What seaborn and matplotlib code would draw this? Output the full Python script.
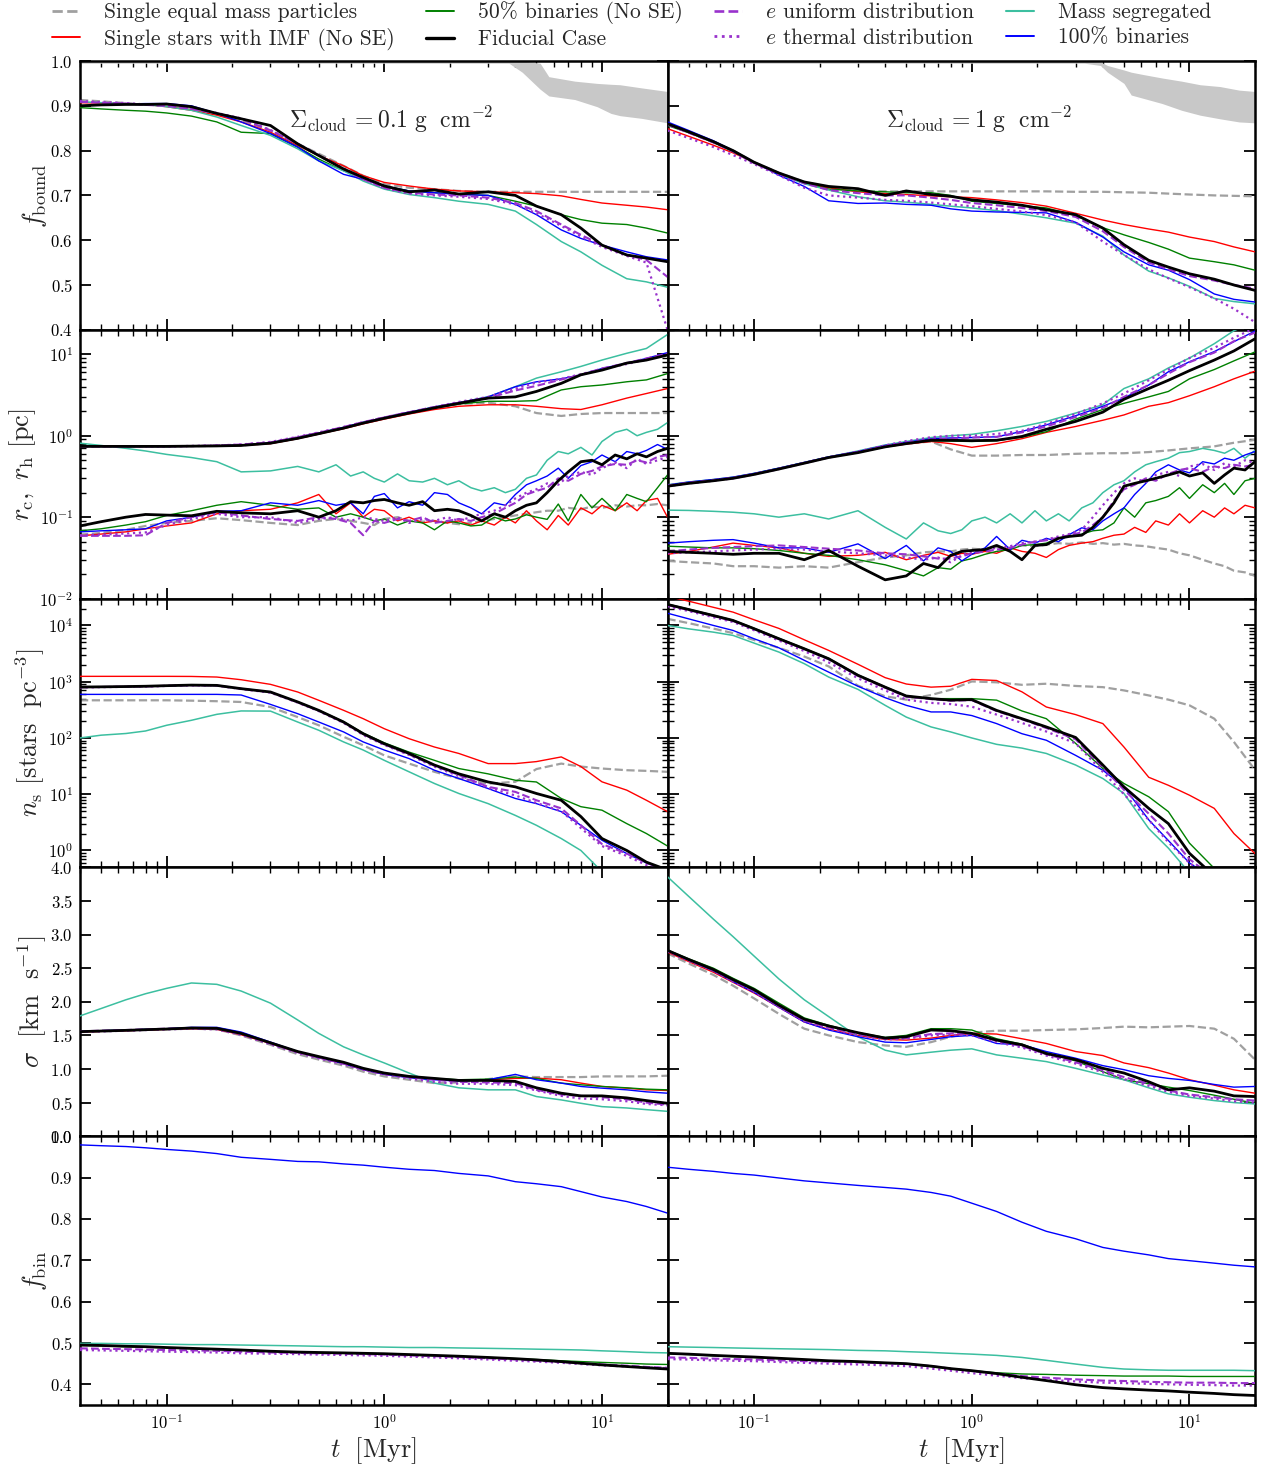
import matplotlib
matplotlib.use("Agg")
import matplotlib.pyplot as plt
from matplotlib.lines import Line2D
from matplotlib.ticker import MultipleLocator
import seaborn as sns

# ---------------- time grids (Myr) ----------------
T = [0.04, 0.05, 0.065, 0.08, 0.1, 0.13, 0.17, 0.22, 0.3, 0.4, 0.5, 0.65, 0.8, 1.0, 1.3, 1.7,
     2.2, 3.0, 4.0, 5.0, 6.5, 8.0, 10.0, 13.0, 16.0, 20.0]
TD = [0.04, 0.05, 0.065, 0.08, 0.1, 0.13, 0.17, 0.22, 0.3, 0.4, 0.5, 0.6, 0.7, 0.8, 0.9, 1.0,
      1.15, 1.3, 1.5, 1.7, 1.95, 2.2, 2.5, 2.8, 3.2, 3.6, 4.0, 4.5, 5.0, 5.6, 6.3, 7.0, 8.0, 9.0,
      10.0, 11.5, 13.0, 14.5, 16.0, 18.0, 20.0]

# ---------------- grey band (f_bound) ----------------
BAND_L_T = [0.04, 3.74, 4.3, 5.2, 5.7, 7.5, 9.5, 11.0, 12.1, 15.2, 20.0]
BAND_L_HI = [1.0, 1.0, 1.0, 0.995, 0.965, 0.955, 0.95, 0.948, 0.947, 0.94, 0.932]
BAND_L_LO = [0.995, 0.995, 0.975, 0.937, 0.922, 0.914, 0.898, 0.883, 0.878, 0.872, 0.862]
BAND_R_T = [0.04, 3.3, 3.9, 4.2, 5.0, 5.4, 6.1, 7.5, 9.2, 11.2, 13.8, 16.9, 20.0]
BAND_R_HI = [1.0, 1.0, 0.998, 0.99, 0.98, 0.975, 0.97, 0.962, 0.955, 0.947, 0.943, 0.935, 0.932]
BAND_R_LO = [0.995, 0.995, 0.99, 0.975, 0.95, 0.924, 0.917, 0.905, 0.89, 0.879, 0.871, 0.864, 0.862]

# ---------------- f_bound ----------------
FB_L_GRAY = [0.913, 0.91, 0.906, 0.903, 0.90, 0.893, 0.883, 0.868, 0.845, 0.815, 0.793, 0.766, 0.744, 0.725, 0.717, 0.714, 0.71, 0.708, 0.708, 0.708, 0.708, 0.708, 0.708, 0.708, 0.708, 0.708]
FB_L_RED = [0.907, 0.906, 0.905, 0.903, 0.898, 0.89, 0.879, 0.864, 0.841, 0.811, 0.789, 0.766, 0.744, 0.729, 0.721, 0.714, 0.71, 0.708, 0.706, 0.704, 0.699, 0.691, 0.683, 0.678, 0.674, 0.668]
FB_L_GREEN = [0.896, 0.893, 0.89, 0.888, 0.884, 0.877, 0.864, 0.841, 0.838, 0.808, 0.781, 0.755, 0.74, 0.721, 0.71, 0.706, 0.703, 0.70, 0.687, 0.676, 0.657, 0.646, 0.638, 0.635, 0.627, 0.616]
FB_L_BLACK = [0.90, 0.902, 0.903, 0.903, 0.904, 0.898, 0.883, 0.871, 0.856, 0.815, 0.789, 0.759, 0.74, 0.721, 0.708, 0.712, 0.703, 0.708, 0.70, 0.676, 0.657, 0.627, 0.589, 0.567, 0.56, 0.552]
FB_L_PDASH = [0.909, 0.907, 0.905, 0.902, 0.90, 0.893, 0.883, 0.871, 0.845, 0.815, 0.789, 0.759, 0.736, 0.717, 0.706, 0.702, 0.70, 0.695, 0.683, 0.665, 0.635, 0.612, 0.589, 0.567, 0.556, 0.518]
FB_L_PDOT = [0.911, 0.908, 0.906, 0.903, 0.90, 0.894, 0.884, 0.872, 0.846, 0.815, 0.79, 0.76, 0.737, 0.716, 0.704, 0.70, 0.697, 0.692, 0.68, 0.66, 0.632, 0.608, 0.585, 0.565, 0.55, 0.40]
FB_L_TURQ = [0.909, 0.907, 0.905, 0.903, 0.898, 0.89, 0.875, 0.856, 0.834, 0.804, 0.777, 0.755, 0.732, 0.714, 0.702, 0.695, 0.687, 0.68, 0.665, 0.635, 0.597, 0.574, 0.544, 0.514, 0.507, 0.495]
FB_L_BLUE = [0.90, 0.902, 0.904, 0.905, 0.905, 0.90, 0.883, 0.864, 0.838, 0.808, 0.777, 0.747, 0.736, 0.721, 0.71, 0.706, 0.702, 0.70, 0.68, 0.657, 0.623, 0.604, 0.589, 0.574, 0.563, 0.556]

FB_R_GRAY = [0.86, 0.842, 0.82, 0.80, 0.774, 0.75, 0.73, 0.718, 0.71, 0.709, 0.709, 0.709, 0.709, 0.709, 0.709, 0.709, 0.709, 0.708, 0.708, 0.707, 0.706, 0.704, 0.702, 0.70, 0.699, 0.698]
FB_R_RED = [0.849, 0.832, 0.812, 0.795, 0.774, 0.75, 0.728, 0.717, 0.708, 0.704, 0.702, 0.699, 0.697, 0.695, 0.69, 0.684, 0.676, 0.66, 0.645, 0.635, 0.625, 0.618, 0.607, 0.597, 0.585, 0.574]
FB_R_GREEN = [0.856, 0.84, 0.818, 0.798, 0.773, 0.748, 0.727, 0.714, 0.71, 0.708, 0.706, 0.706, 0.70, 0.687, 0.682, 0.677, 0.672, 0.655, 0.628, 0.612, 0.595, 0.58, 0.56, 0.552, 0.545, 0.533]
FB_R_BLACK = [0.86, 0.842, 0.82, 0.80, 0.774, 0.75, 0.73, 0.72, 0.715, 0.70, 0.71, 0.702, 0.698, 0.69, 0.685, 0.678, 0.668, 0.657, 0.627, 0.59, 0.555, 0.54, 0.525, 0.513, 0.50, 0.488]
FB_R_PDASH = [0.858, 0.84, 0.818, 0.798, 0.772, 0.748, 0.727, 0.712, 0.705, 0.70, 0.70, 0.695, 0.69, 0.683, 0.678, 0.672, 0.665, 0.652, 0.62, 0.585, 0.55, 0.535, 0.52, 0.51, 0.50, 0.492]
FB_R_PDOT = [0.845, 0.828, 0.808, 0.79, 0.77, 0.745, 0.717, 0.70, 0.695, 0.69, 0.688, 0.684, 0.68, 0.676, 0.67, 0.664, 0.656, 0.64, 0.597, 0.567, 0.535, 0.515, 0.495, 0.47, 0.447, 0.417]
FB_R_TURQ = [0.86, 0.842, 0.82, 0.80, 0.774, 0.748, 0.726, 0.712, 0.697, 0.688, 0.685, 0.68, 0.676, 0.672, 0.666, 0.658, 0.65, 0.638, 0.609, 0.567, 0.531, 0.516, 0.497, 0.47, 0.463, 0.458]
FB_R_BLUE = [0.864, 0.845, 0.822, 0.80, 0.774, 0.745, 0.72, 0.688, 0.682, 0.683, 0.68, 0.678, 0.67, 0.665, 0.663, 0.662, 0.661, 0.64, 0.607, 0.574, 0.545, 0.533, 0.512, 0.48, 0.468, 0.462]

# ---------------- half-mass radius r_h (pc), grid T ----------------
RH_L_GRAY = [0.74, 0.74, 0.74, 0.74, 0.74, 0.745, 0.75, 0.76, 0.81, 0.93, 1.06, 1.24, 1.43, 1.64, 1.9, 2.2, 2.45, 2.55, 2.3, 1.9, 1.75, 1.85, 1.9, 1.9, 1.9, 1.9]
RH_L_RED = [0.74, 0.74, 0.74, 0.74, 0.74, 0.745, 0.75, 0.76, 0.80, 0.92, 1.05, 1.22, 1.40, 1.60, 1.85, 2.1, 2.3, 2.4, 2.4, 2.3, 2.15, 2.1, 2.4, 2.9, 3.3, 3.8]
RH_L_GREEN = [0.74, 0.74, 0.74, 0.74, 0.74, 0.745, 0.75, 0.76, 0.81, 0.93, 1.06, 1.24, 1.43, 1.64, 1.9, 2.2, 2.45, 2.65, 2.65, 2.7, 3.65, 4.0, 4.2, 4.6, 4.85, 5.8]
RH_L_BLACK = [0.74, 0.74, 0.74, 0.74, 0.74, 0.745, 0.75, 0.76, 0.81, 0.93, 1.06, 1.24, 1.43, 1.64, 1.9, 2.2, 2.5, 2.9, 3.0, 3.5, 4.4, 5.6, 6.4, 7.8, 8.5, 9.8]
RH_L_PDASH = [0.74, 0.74, 0.74, 0.74, 0.74, 0.745, 0.76, 0.78, 0.83, 0.96, 1.09, 1.28, 1.47, 1.68, 1.95, 2.25, 2.55, 2.9, 3.6, 4.1, 4.9, 5.6, 6.7, 7.8, 8.9, 10.2]
RH_L_PDOT = [0.74, 0.74, 0.74, 0.74, 0.74, 0.75, 0.76, 0.78, 0.84, 0.97, 1.1, 1.28, 1.47, 1.68, 1.95, 2.25, 2.6, 3.0, 3.8, 4.5, 5.0, 5.7, 6.6, 7.6, 8.6, 10.0]
RH_L_TURQ = [0.75, 0.74, 0.74, 0.74, 0.74, 0.745, 0.75, 0.77, 0.82, 0.95, 1.08, 1.27, 1.46, 1.67, 1.95, 2.25, 2.55, 3.0, 4.0, 5.1, 6.1, 7.1, 8.5, 10.3, 11.8, 17.5]
RH_L_BLUE = [0.74, 0.74, 0.74, 0.74, 0.74, 0.745, 0.75, 0.77, 0.82, 0.95, 1.08, 1.27, 1.46, 1.67, 1.95, 2.25, 2.55, 3.0, 4.0, 4.6, 5.0, 5.6, 6.7, 7.8, 8.9, 10.5]

RH_R_GRAY = [0.245, 0.265, 0.285, 0.305, 0.34, 0.395, 0.465, 0.545, 0.63, 0.74, 0.80, 0.85, 0.68, 0.57, 0.57, 0.58, 0.58, 0.60, 0.61, 0.61, 0.63, 0.66, 0.70, 0.74, 0.82, 0.89]
RH_R_RED = [0.24, 0.26, 0.28, 0.30, 0.335, 0.39, 0.46, 0.54, 0.62, 0.73, 0.79, 0.85, 0.80, 0.72, 0.80, 0.92, 1.1, 1.3, 1.55, 1.8, 2.3, 2.55, 3.1, 4.0, 5.0, 6.2]
RH_R_GREEN = [0.245, 0.265, 0.285, 0.305, 0.34, 0.395, 0.465, 0.545, 0.63, 0.74, 0.81, 0.87, 0.86, 0.85, 0.87, 0.96, 1.12, 1.6, 2.1, 2.5, 3.0, 3.5, 5.0, 6.5, 8.3, 10.7]
RH_R_BLACK = [0.24, 0.26, 0.28, 0.30, 0.335, 0.39, 0.46, 0.54, 0.62, 0.73, 0.80, 0.88, 0.88, 0.87, 0.88, 0.98, 1.2, 1.5, 1.95, 2.8, 3.8, 4.8, 6.3, 8.5, 11.0, 15.5]
RH_R_PDASH = [0.245, 0.265, 0.285, 0.305, 0.34, 0.395, 0.465, 0.545, 0.63, 0.75, 0.82, 0.90, 0.92, 0.95, 0.97, 1.1, 1.3, 1.7, 2.2, 3.0, 4.2, 5.8, 8.0, 10.5, 14.5, 18.5]
RH_R_PDOT = [0.24, 0.26, 0.28, 0.30, 0.335, 0.39, 0.46, 0.54, 0.64, 0.76, 0.86, 0.96, 1.0, 1.0, 1.05, 1.15, 1.4, 1.85, 2.5, 3.3, 4.8, 6.5, 9.0, 12.0, 16.0, 21.0]
RH_R_TURQ = [0.25, 0.27, 0.29, 0.31, 0.345, 0.40, 0.47, 0.55, 0.65, 0.77, 0.85, 0.95, 1.0, 1.04, 1.15, 1.3, 1.5, 1.9, 2.4, 3.8, 5.0, 6.8, 9.0, 13.5, 19.5, 25.0]
RH_R_BLUE = [0.247, 0.27, 0.29, 0.31, 0.345, 0.40, 0.47, 0.55, 0.64, 0.76, 0.83, 0.92, 0.94, 0.95, 0.97, 1.13, 1.36, 1.76, 2.3, 2.9, 4.2, 6.1, 8.1, 10.8, 14.3, 19.3]

# ---------------- core radius r_c (pc), grid TD ----------------
RC_L_TURQ = [0.81, 0.76, 0.70, 0.65, 0.59, 0.54, 0.48, 0.36, 0.37, 0.42, 0.36, 0.44, 0.32, 0.36, 0.30, 0.27, 0.34, 0.28, 0.27, 0.30, 0.25, 0.28, 0.23, 0.21, 0.23, 0.20, 0.22, 0.30, 0.33, 0.50, 0.64, 0.60, 0.72, 0.58, 0.85, 1.1, 1.2, 1.0, 1.1, 1.2, 1.45]
RC_L_BLACK = [0.078, 0.088, 0.10, 0.108, 0.106, 0.104, 0.118, 0.113, 0.11, 0.12, 0.10, 0.12, 0.155, 0.15, 0.16, 0.165, 0.15, 0.14, 0.155, 0.12, 0.125, 0.12, 0.105, 0.09, 0.11, 0.10, 0.12, 0.14, 0.15, 0.20, 0.28, 0.36, 0.48, 0.50, 0.44, 0.58, 0.52, 0.60, 0.55, 0.64, 0.70]
RC_L_BLUE = [0.066, 0.068, 0.07, 0.072, 0.09, 0.10, 0.118, 0.12, 0.15, 0.14, 0.16, 0.14, 0.15, 0.11, 0.18, 0.195, 0.13, 0.155, 0.14, 0.20, 0.19, 0.15, 0.13, 0.11, 0.15, 0.14, 0.19, 0.25, 0.28, 0.32, 0.40, 0.30, 0.43, 0.48, 0.58, 0.48, 0.64, 0.60, 0.66, 0.78, 0.68]
RC_L_RED = [0.059, 0.062, 0.066, 0.072, 0.078, 0.085, 0.11, 0.12, 0.125, 0.15, 0.19, 0.11, 0.15, 0.10, 0.125, 0.12, 0.09, 0.10, 0.085, 0.09, 0.085, 0.09, 0.08, 0.09, 0.08, 0.10, 0.085, 0.12, 0.09, 0.07, 0.105, 0.08, 0.13, 0.11, 0.14, 0.12, 0.15, 0.12, 0.16, 0.17, 0.10]
RC_L_GREEN = [0.068, 0.072, 0.08, 0.088, 0.105, 0.12, 0.14, 0.155, 0.14, 0.125, 0.13, 0.10, 0.11, 0.10, 0.09, 0.095, 0.08, 0.09, 0.085, 0.07, 0.09, 0.085, 0.078, 0.08, 0.10, 0.09, 0.095, 0.107, 0.10, 0.094, 0.145, 0.09, 0.19, 0.13, 0.17, 0.12, 0.19, 0.17, 0.155, 0.23, 0.33]
RC_L_GRAY = [0.061, 0.064, 0.07, 0.078, 0.085, 0.09, 0.097, 0.092, 0.085, 0.08, 0.09, 0.095, 0.09, 0.085, 0.08, 0.095, 0.10, 0.09, 0.088, 0.09, 0.085, 0.082, 0.085, 0.09, 0.095, 0.10, 0.105, 0.11, 0.115, 0.12, 0.12, 0.13, 0.125, 0.135, 0.13, 0.14, 0.135, 0.14, 0.14, 0.145, 0.14]
RC_L_PDASH = [0.059, 0.059, 0.059, 0.06, 0.085, 0.10, 0.115, 0.105, 0.095, 0.09, 0.10, 0.095, 0.085, 0.06, 0.09, 0.085, 0.095, 0.09, 0.10, 0.085, 0.09, 0.095, 0.09, 0.10, 0.11, 0.13, 0.15, 0.19, 0.21, 0.23, 0.30, 0.28, 0.34, 0.37, 0.42, 0.45, 0.44, 0.50, 0.47, 0.55, 0.58]
RC_L_PDOT = [0.06, 0.061, 0.063, 0.065, 0.08, 0.095, 0.11, 0.10, 0.10, 0.085, 0.095, 0.10, 0.09, 0.10, 0.095, 0.09, 0.10, 0.085, 0.095, 0.09, 0.10, 0.09, 0.10, 0.11, 0.12, 0.14, 0.17, 0.20, 0.22, 0.26, 0.25, 0.32, 0.36, 0.33, 0.40, 0.47, 0.40, 0.52, 0.45, 0.50, 0.55]

RC_R_TURQ = [0.122, 0.121, 0.118, 0.115, 0.11, 0.10, 0.11, 0.095, 0.12, 0.075, 0.054, 0.085, 0.068, 0.063, 0.07, 0.09, 0.10, 0.085, 0.11, 0.085, 0.12, 0.09, 0.11, 0.09, 0.13, 0.15, 0.20, 0.25, 0.28, 0.36, 0.44, 0.48, 0.53, 0.62, 0.64, 0.70, 0.66, 0.61, 0.70, 0.53, 0.66]
RC_R_BLACK = [0.038, 0.037, 0.036, 0.035, 0.036, 0.036, 0.03, 0.039, 0.025, 0.017, 0.019, 0.027, 0.024, 0.034, 0.038, 0.039, 0.040, 0.045, 0.038, 0.030, 0.045, 0.046, 0.055, 0.058, 0.06, 0.075, 0.10, 0.15, 0.24, 0.26, 0.28, 0.30, 0.33, 0.36, 0.32, 0.35, 0.26, 0.33, 0.40, 0.38, 0.48]
RC_R_BLUE = [0.048, 0.05, 0.052, 0.053, 0.048, 0.042, 0.042, 0.037, 0.047, 0.031, 0.045, 0.029, 0.042, 0.038, 0.029, 0.035, 0.042, 0.058, 0.040, 0.052, 0.048, 0.055, 0.050, 0.061, 0.074, 0.07, 0.09, 0.11, 0.13, 0.19, 0.26, 0.36, 0.44, 0.38, 0.35, 0.48, 0.45, 0.53, 0.50, 0.58, 0.64]
RC_R_RED = [0.035, 0.038, 0.043, 0.048, 0.045, 0.042, 0.036, 0.033, 0.034, 0.037, 0.03, 0.034, 0.037, 0.033, 0.036, 0.035, 0.038, 0.036, 0.042, 0.038, 0.036, 0.032, 0.04, 0.045, 0.048, 0.05, 0.055, 0.06, 0.062, 0.075, 0.065, 0.09, 0.08, 0.11, 0.085, 0.12, 0.10, 0.13, 0.11, 0.14, 0.13]
RC_R_GREEN = [0.044, 0.043, 0.042, 0.042, 0.041, 0.039, 0.036, 0.034, 0.03, 0.026, 0.022, 0.019, 0.024, 0.023, 0.029, 0.031, 0.035, 0.038, 0.04, 0.045, 0.046, 0.048, 0.055, 0.058, 0.062, 0.068, 0.07, 0.085, 0.13, 0.10, 0.15, 0.16, 0.18, 0.23, 0.17, 0.25, 0.20, 0.26, 0.19, 0.28, 0.30]
RC_R_GRAY = [0.029, 0.028, 0.027, 0.025, 0.025, 0.024, 0.025, 0.024, 0.028, 0.032, 0.034, 0.037, 0.038, 0.038, 0.04, 0.041, 0.04, 0.043, 0.042, 0.045, 0.044, 0.046, 0.048, 0.047, 0.049, 0.047, 0.048, 0.046, 0.047, 0.045, 0.044, 0.042, 0.04, 0.036, 0.034, 0.03, 0.027, 0.025, 0.022, 0.021, 0.019]
RC_R_PDASH = [0.038, 0.04, 0.042, 0.043, 0.044, 0.045, 0.043, 0.041, 0.039, 0.036, 0.035, 0.033, 0.031, 0.031, 0.033, 0.036, 0.038, 0.04, 0.042, 0.046, 0.05, 0.052, 0.056, 0.06, 0.065, 0.08, 0.10, 0.16, 0.22, 0.25, 0.30, 0.28, 0.34, 0.38, 0.40, 0.36, 0.42, 0.40, 0.44, 0.42, 0.44]
RC_R_PDOT = [0.036, 0.037, 0.038, 0.039, 0.04, 0.041, 0.04, 0.038, 0.036, 0.034, 0.032, 0.03, 0.032, 0.028, 0.034, 0.038, 0.04, 0.042, 0.044, 0.048, 0.05, 0.053, 0.058, 0.062, 0.07, 0.10, 0.14, 0.20, 0.26, 0.30, 0.27, 0.33, 0.36, 0.32, 0.42, 0.45, 0.38, 0.46, 0.42, 0.50, 0.46]

# ---------------- stellar density n_s, grid T ----------------
NS_L_GRAY = [467, 467, 467, 467, 467, 460, 450, 436, 355, 235, 168, 105, 74, 49, 35, 25, 19, 15.4, 16.6, 28, 35, 31, 28.6, 26.7, 26, 25]
NS_L_RED = [1245, 1245, 1245, 1245, 1245, 1240, 1210, 1084, 897, 656, 467, 310, 220, 146, 97, 69, 53, 35, 35, 38, 46, 31, 16.6, 11.8, 7.8, 4.9]
NS_L_GREEN = [800, 805, 815, 825, 845, 865, 855, 750, 650, 437, 309, 195, 122, 82, 56, 40, 28.6, 23, 17.7, 16.5, 8.4, 6.0, 5.2, 3.0, 2.0, 1.2]
NS_L_BLACK = [804, 810, 820, 830, 850, 870, 860, 752, 656, 437, 309, 192, 119, 79, 53, 33, 23, 16.5, 13.5, 10.3, 7.8, 4.0, 1.63, 1.0, 0.62, 0.45]
NS_L_PDASH = [800, 805, 815, 825, 845, 865, 855, 750, 650, 430, 305, 190, 117, 77, 51, 32, 22, 13.5, 11, 7.8, 5.6, 2.8, 1.3, 0.88, 0.6, 0.45]
NS_L_PDOT = [790, 800, 810, 820, 840, 860, 850, 740, 640, 425, 300, 185, 113, 75, 50, 31, 21, 13, 9.5, 7.0, 5.0, 2.5, 1.2, 0.8, 0.55, 0.42]
NS_L_TURQ = [100, 112, 120, 133, 168, 206, 263, 302, 300, 192, 137, 85, 61, 40, 25, 15.5, 10.3, 6.8, 4.2, 2.8, 1.63, 1.0, 0.42, 0.3, 0.25, 0.2]
NS_L_BLUE = [595, 595, 595, 595, 595, 595, 595, 580, 395, 270, 192, 128, 85, 61, 43, 26.7, 19, 12.6, 8.4, 6.8, 4.9, 2.8, 1.52, 0.88, 0.6, 0.45]

NS_R_GRAY = [13100, 11000, 8800, 7300, 5500, 4000, 2800, 1870, 850, 550, 480, 580, 720, 1010, 975, 880, 920, 840, 800, 700, 570, 480, 380, 220, 85, 27]
NS_R_RED = [33000, 27000, 21000, 17250, 12600, 8850, 5560, 3600, 2040, 1180, 910, 800, 830, 1100, 1050, 660, 355, 260, 180, 69, 20, 14.4, 9.6, 5.6, 2.0, 0.88]
NS_R_GREEN = [24000, 19500, 15200, 12400, 8900, 5900, 3900, 2600, 1320, 810, 560, 500, 500, 500, 470, 302, 220, 80, 28.6, 15.5, 9.0, 4.9, 1.35, 0.48, 0.3, 0.25]
NS_R_BLACK = [23600, 19200, 15000, 12270, 8750, 5800, 3850, 2560, 1300, 800, 557, 500, 470, 480, 309, 220, 157, 102, 33, 13.5, 5.6, 3.0, 0.89, 0.35, 0.3, 0.25]
NS_R_PDASH = [23000, 18800, 14700, 12000, 8600, 5700, 3800, 2500, 1270, 780, 540, 490, 460, 470, 300, 215, 150, 95, 30, 12, 4.5, 2.0, 0.7, 0.32, 0.28, 0.24]
NS_R_PDOT = [22000, 18000, 14000, 11500, 8200, 5400, 3500, 2200, 1150, 700, 480, 420, 400, 360, 260, 185, 130, 80, 25, 10, 3.5, 1.4, 0.6, 0.3, 0.26, 0.22]
NS_R_TURQ = [10000, 8700, 7600, 6650, 4850, 3360, 2090, 1210, 730, 380, 235, 157, 128, 100, 77, 66, 53, 33, 19, 10.3, 2.45, 1.1, 0.4, 0.3, 0.25, 0.2]
NS_R_BLUE = [16500, 13100, 10000, 8150, 5800, 4000, 2400, 1480, 830, 520, 380, 290, 290, 250, 180, 119, 91, 49, 26.7, 13.5, 3.5, 1.5, 0.6, 0.3, 0.25, 0.2]

# ---------------- velocity dispersion sigma (km/s), grid T ----------------
SIG_L_GRAY = [1.55, 1.56, 1.57, 1.58, 1.59, 1.60, 1.59, 1.50, 1.36, 1.22, 1.14, 1.05, 0.96, 0.89, 0.84, 0.79, 0.80, 0.85, 0.89, 0.88, 0.88, 0.88, 0.89, 0.89, 0.89, 0.90]
SIG_L_RED = [1.55, 1.56, 1.57, 1.58, 1.59, 1.60, 1.59, 1.51, 1.38, 1.25, 1.17, 1.08, 0.99, 0.92, 0.88, 0.85, 0.83, 0.84, 0.86, 0.865, 0.84, 0.79, 0.74, 0.715, 0.69, 0.68]
SIG_L_GREEN = [1.56, 1.57, 1.58, 1.59, 1.60, 1.61, 1.60, 1.53, 1.39, 1.26, 1.18, 1.09, 1.0, 0.93, 0.89, 0.86, 0.84, 0.85, 0.88, 0.86, 0.79, 0.765, 0.74, 0.72, 0.70, 0.69]
SIG_L_BLACK = [1.556, 1.565, 1.575, 1.585, 1.595, 1.61, 1.605, 1.53, 1.39, 1.26, 1.185, 1.10, 1.01, 0.94, 0.89, 0.86, 0.83, 0.83, 0.815, 0.72, 0.64, 0.60, 0.60, 0.57, 0.53, 0.49]
SIG_L_PDASH = [1.56, 1.57, 1.58, 1.59, 1.60, 1.61, 1.60, 1.52, 1.38, 1.25, 1.17, 1.08, 1.0, 0.93, 0.88, 0.84, 0.81, 0.80, 0.79, 0.69, 0.62, 0.60, 0.58, 0.55, 0.50, 0.47]
SIG_L_PDOT = [1.55, 1.56, 1.57, 1.58, 1.59, 1.60, 1.59, 1.51, 1.37, 1.24, 1.16, 1.07, 0.99, 0.92, 0.86, 0.81, 0.78, 0.78, 0.76, 0.68, 0.60, 0.56, 0.55, 0.52, 0.48, 0.46]
SIG_L_TURQ = [1.79, 1.9, 2.03, 2.12, 2.2, 2.28, 2.26, 2.16, 1.98, 1.73, 1.53, 1.33, 1.21, 1.09, 0.94, 0.79, 0.72, 0.69, 0.69, 0.59, 0.54, 0.49, 0.44, 0.42, 0.395, 0.37]
SIG_L_BLUE = [1.56, 1.57, 1.58, 1.59, 1.60, 1.62, 1.62, 1.55, 1.40, 1.26, 1.17, 1.08, 0.99, 0.92, 0.87, 0.84, 0.82, 0.84, 0.92, 0.84, 0.79, 0.74, 0.715, 0.69, 0.66, 0.64]

SIG_R_GRAY = [2.72, 2.57, 2.40, 2.24, 2.05, 1.82, 1.60, 1.50, 1.40, 1.35, 1.33, 1.40, 1.48, 1.54, 1.57, 1.57, 1.58, 1.59, 1.61, 1.63, 1.62, 1.63, 1.64, 1.60, 1.45, 1.14]
SIG_R_RED = [2.74, 2.60, 2.44, 2.29, 2.13, 1.92, 1.70, 1.59, 1.50, 1.44, 1.43, 1.46, 1.50, 1.53, 1.52, 1.45, 1.38, 1.26, 1.20, 1.09, 1.02, 0.94, 0.84, 0.76, 0.69, 0.64]
SIG_R_GREEN = [2.77, 2.64, 2.50, 2.35, 2.20, 1.98, 1.76, 1.65, 1.54, 1.47, 1.50, 1.60, 1.60, 1.58, 1.45, 1.37, 1.24, 1.12, 0.96, 0.84, 0.78, 0.73, 0.68, 0.61, 0.55, 0.49]
SIG_R_BLACK = [2.765, 2.63, 2.48, 2.33, 2.18, 1.95, 1.74, 1.64, 1.54, 1.46, 1.48, 1.58, 1.57, 1.53, 1.43, 1.36, 1.23, 1.14, 1.01, 0.94, 0.81, 0.69, 0.72, 0.67, 0.60, 0.59]
SIG_R_PDASH = [2.76, 2.62, 2.47, 2.31, 2.16, 1.93, 1.72, 1.62, 1.52, 1.45, 1.46, 1.52, 1.53, 1.52, 1.42, 1.34, 1.22, 1.10, 0.98, 0.88, 0.78, 0.68, 0.62, 0.58, 0.55, 0.53]
SIG_R_PDOT = [2.75, 2.61, 2.46, 2.30, 2.15, 1.92, 1.71, 1.60, 1.50, 1.44, 1.45, 1.50, 1.51, 1.50, 1.40, 1.32, 1.20, 1.08, 0.95, 0.85, 0.75, 0.66, 0.60, 0.56, 0.52, 0.50]
SIG_R_TURQ = [3.86, 3.57, 3.23, 2.97, 2.68, 2.34, 2.03, 1.78, 1.48, 1.28, 1.21, 1.25, 1.28, 1.30, 1.21, 1.16, 1.11, 1.01, 0.91, 0.84, 0.72, 0.63, 0.58, 0.53, 0.50, 0.48]
SIG_R_BLUE = [2.765, 2.62, 2.46, 2.30, 2.14, 1.92, 1.70, 1.58, 1.48, 1.40, 1.39, 1.44, 1.48, 1.50, 1.38, 1.36, 1.26, 1.16, 1.05, 0.99, 0.90, 0.86, 0.83, 0.77, 0.73, 0.74]

# ---------------- binary fraction f_bin, grid T ----------------
FBIN_L_GREEN = [0.494, 0.493, 0.491, 0.490, 0.488, 0.486, 0.484, 0.482, 0.479, 0.477, 0.476, 0.475, 0.474, 0.473, 0.471, 0.469, 0.467, 0.465, 0.462, 0.46, 0.457, 0.455, 0.453, 0.451, 0.449, 0.448]
FBIN_L_BLACK = [0.495, 0.494, 0.492, 0.491, 0.489, 0.487, 0.485, 0.483, 0.48, 0.478, 0.477, 0.476, 0.475, 0.474, 0.472, 0.47, 0.468, 0.465, 0.462, 0.459, 0.455, 0.451, 0.447, 0.443, 0.440, 0.437]
FBIN_L_PDASH = [0.487, 0.486, 0.485, 0.484, 0.483, 0.482, 0.481, 0.479, 0.477, 0.476, 0.475, 0.474, 0.473, 0.472, 0.47, 0.468, 0.466, 0.463, 0.46, 0.457, 0.454, 0.451, 0.448, 0.445, 0.442, 0.44]
FBIN_L_PDOT = [0.483, 0.482, 0.481, 0.480, 0.479, 0.478, 0.477, 0.475, 0.474, 0.473, 0.472, 0.471, 0.470, 0.469, 0.467, 0.465, 0.463, 0.46, 0.457, 0.455, 0.452, 0.449, 0.446, 0.443, 0.441, 0.439]
FBIN_L_TURQ = [0.499, 0.499, 0.498, 0.498, 0.497, 0.496, 0.496, 0.495, 0.494, 0.493, 0.492, 0.491, 0.491, 0.490, 0.489, 0.489, 0.488, 0.487, 0.486, 0.485, 0.484, 0.483, 0.481, 0.479, 0.477, 0.476]
FBIN_L_BLUE = [0.979, 0.977, 0.975, 0.972, 0.968, 0.964, 0.958, 0.949, 0.944, 0.939, 0.938, 0.933, 0.93, 0.925, 0.92, 0.917, 0.91, 0.904, 0.89, 0.885, 0.878, 0.866, 0.853, 0.842, 0.83, 0.814]

FBIN_R_GREEN = [0.474, 0.472, 0.469, 0.467, 0.465, 0.462, 0.459, 0.456, 0.454, 0.451, 0.449, 0.443, 0.438, 0.433, 0.428, 0.425, 0.424, 0.422, 0.421, 0.42, 0.42, 0.42, 0.419, 0.419, 0.419, 0.419]
FBIN_R_BLACK = [0.475, 0.473, 0.47, 0.468, 0.466, 0.463, 0.46, 0.457, 0.455, 0.452, 0.45, 0.444, 0.438, 0.433, 0.426, 0.417, 0.409, 0.399, 0.392, 0.389, 0.386, 0.384, 0.381, 0.378, 0.375, 0.373]
FBIN_R_PDASH = [0.465, 0.464, 0.462, 0.461, 0.46, 0.458, 0.456, 0.455, 0.453, 0.451, 0.449, 0.444, 0.438, 0.432, 0.426, 0.42, 0.416, 0.412, 0.409, 0.408, 0.406, 0.405, 0.404, 0.404, 0.403, 0.403]
FBIN_R_PDOT = [0.461, 0.46, 0.458, 0.457, 0.456, 0.454, 0.452, 0.45, 0.448, 0.446, 0.444, 0.438, 0.433, 0.427, 0.421, 0.415, 0.411, 0.407, 0.404, 0.403, 0.401, 0.4, 0.399, 0.398, 0.397, 0.397]
FBIN_R_TURQ = [0.491, 0.49, 0.489, 0.488, 0.487, 0.486, 0.485, 0.484, 0.482, 0.481, 0.479, 0.477, 0.475, 0.473, 0.47, 0.465, 0.458, 0.449, 0.441, 0.437, 0.435, 0.434, 0.434, 0.434, 0.434, 0.433]
FBIN_R_BLUE = [0.925, 0.92, 0.915, 0.91, 0.906, 0.899, 0.892, 0.887, 0.881, 0.876, 0.872, 0.864, 0.855, 0.838, 0.818, 0.792, 0.77, 0.752, 0.731, 0.722, 0.713, 0.704, 0.699, 0.693, 0.688, 0.684]

# ---------------- labels ----------------
LEGEND_LABELS = {
    "GRAY": "Single equal mass particles",
    "RED": "Single stars with IMF (No SE)",
    "GREEN": "50% binaries (No SE)",
    "BLACK": "Fiducial Case",
    "PDASH": r"$e$ uniform distribution",
    "PDOT": r"$e$ thermal distribution",
    "TURQ": "Mass segregated",
    "BLUE": "100% binaries",
}
YLABELS = [r"$f_{\rm bound}$", r"$r_{\rm c},\ r_{\rm h}\ [{\rm pc}]$",
           r"$n_{\rm s}\ [{\rm stars\ \ pc^{-3}}]$", r"$\sigma\ \ [{\rm km\ \ s^{-1}}]$",
           r"$f_{\rm bin}$"]
PANEL_TITLES = [r"$\Sigma_{\rm cloud}\,{=}0.1\ {\rm g\ \ cm^{-2}}$",
                r"$\Sigma_{\rm cloud}\,{=}1\ {\rm g\ \ cm^{-2}}$"]

# ---------------- styles ----------------
PURPLE = "#9932cc"
STYLE = {
    "GRAY": dict(color="#a0a0a0", lw=1.6, ls="--", z=2),
    "RED": dict(color="#ff0000", lw=1.0, ls="-", z=3),
    "GREEN": dict(color="#008000", lw=1.0, ls="-", z=3),
    "TURQ": dict(color="#3cbfa0", lw=1.1, ls="-", z=3),
    "BLUE": dict(color="#0000ff", lw=1.0, ls="-", z=4),
    "PDASH": dict(color=PURPLE, lw=1.5, ls="--", z=4),
    "PDOT": dict(color=PURPLE, lw=1.6, ls=":", z=4),
    "BLACK": dict(color="black", lw=2.0, ls="-", z=5),
}
DRAW_ORDER = ["GRAY", "RED", "GREEN", "TURQ", "BLUE", "PDASH", "PDOT", "BLACK"]
LEGEND_ORDER = ["GRAY", "RED", "GREEN", "BLACK", "PDASH", "PDOT", "TURQ", "BLUE"]

sns.set_theme(style="ticks")
plt.rcParams.update({
    "font.family": "serif",
    "font.serif": ["cmr10"],
    "mathtext.fontset": "cm",
    "axes.formatter.use_mathtext": True,
    "axes.unicode_minus": False,
    "axes.linewidth": 1.8,
    "axes.edgecolor": "black",
    "xtick.color": "black", "ytick.color": "black",
    "xtick.direction": "in", "ytick.direction": "in",
    "xtick.top": True, "ytick.right": True,
    "xtick.major.size": 8, "ytick.major.size": 8,
    "xtick.minor.size": 4, "ytick.minor.size": 4,
    "xtick.major.width": 1.3, "ytick.major.width": 1.3,
    "xtick.minor.width": 1.0, "ytick.minor.width": 1.0,
    "xtick.labelsize": 12, "ytick.labelsize": 12,
    "xtick.major.pad": 6, "ytick.major.pad": 5,
})

fig = plt.figure(figsize=(12.71, 14.66), dpi=100)
gs = fig.add_gridspec(5, 2, left=80 / 1271, right=1255 / 1271,
                      top=1 - 61 / 1466, bottom=1 - 1405 / 1466, hspace=0, wspace=0)
axes = [[fig.add_subplot(gs[r, c]) for c in range(2)] for r in range(5)]

ROW_LOG = [False, True, True, False, False]
for r in range(5):
    for c in range(2):
        ax = axes[r][c]
        ax.set_xscale("log")
        if ROW_LOG[r]:
            ax.set_yscale("log")


def draw(ax, x, y, key):
    st = STYLE[key]
    sns.lineplot(x=x, y=y, ax=ax, color=st["color"], linewidth=st["lw"],
                 linestyle=st["ls"], estimator=None, sort=False, legend=False,
                 zorder=st["z"])


g = globals()
for c, side in enumerate(["L", "R"]):
    bt, bh, bl = g[f"BAND_{side}_T"], g[f"BAND_{side}_HI"], g[f"BAND_{side}_LO"]
    axes[0][c].fill_between(bt, bl, bh, color="#c8c8c8", lw=0, zorder=1)
    for key in DRAW_ORDER:
        draw(axes[0][c], T, g[f"FB_{side}_{key}"], key)
        draw(axes[1][c], T, g[f"RH_{side}_{key}"], key)
        draw(axes[1][c], TD, g[f"RC_{side}_{key}"], key)
        draw(axes[2][c], T, g[f"NS_{side}_{key}"], key)
        draw(axes[3][c], T, g[f"SIG_{side}_{key}"], key)
        name = f"FBIN_{side}_{key}"
        if name in g:
            draw(axes[4][c], T, g[name], key)

YLIMS = [(0.4, 1.0), (0.01, 20), (0.5, 3e4), (0.0, 4.0), (0.35, 1.0)]
for r in range(5):
    for c in range(2):
        ax = axes[r][c]
        ax.set_xlim(0.04, 20)
        ax.set_ylim(*YLIMS[r])
        ax.set_xlabel("")
        ax.set_ylabel("")
        if r == 0 or r == 4:
            ax.yaxis.set_major_locator(MultipleLocator(0.1))
        if r == 3:
            ax.yaxis.set_major_locator(MultipleLocator(0.5))
        ax.tick_params(which="both", direction="in", top=True, right=True)
        if c == 1:
            ax.tick_params(labelleft=False)
        if r < 4:
            ax.tick_params(labelbottom=False)
        for sp in ax.spines.values():
            sp.set_linewidth(1.8)
    axes[r][0].set_ylabel(YLABELS[r], fontsize=19, labelpad=1)

for c in range(2):
    axes[4][c].set_xlabel(r"$t\ \ [{\rm Myr}]$", fontsize=19, labelpad=2)
    axes[0][c].text(0.53, 0.78, PANEL_TITLES[c], transform=axes[0][c].transAxes,
                    ha="center", va="center", fontsize=17)

handles = [Line2D([0], [0], color=STYLE[k]["color"], lw=STYLE[k]["lw"] + 0.4,
                  ls=STYLE[k]["ls"]) for k in LEGEND_ORDER]
labels = [LEGEND_LABELS[k] for k in LEGEND_ORDER]
fig.legend(handles, labels, loc="upper center", bbox_to_anchor=(0.497, 1.008),
           ncol=4, frameon=False, fontsize=15.5, handlelength=1.3, handletextpad=1.1,
           columnspacing=1.45, labelspacing=0.25, borderpad=0.1)

fig.savefig("out.png", dpi=100)
